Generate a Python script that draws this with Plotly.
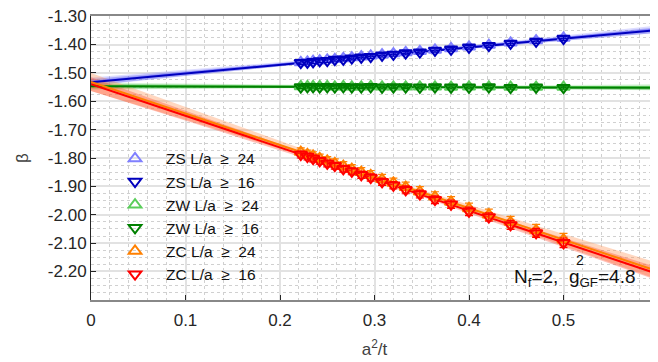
import numpy as np
import plotly.graph_objects as go

# ---------------- data ----------------
a2_over_t = [0.500, 0.471, 0.444, 0.421, 0.400, 0.381, 0.364, 0.348, 0.333, 0.320, 0.308,
             0.296, 0.286, 0.276, 0.267, 0.258, 0.250, 0.242, 0.235, 0.229, 0.222]

zs_24 = [-1.377, -1.386, -1.394, -1.402, -1.408, -1.414, -1.419, -1.424, -1.428, -1.432, -1.436,
         -1.440, -1.443, -1.446, -1.449, -1.452, -1.454, -1.457, -1.459, -1.461, -1.463]
zs_16 = [-1.379, -1.389, -1.396, -1.404, -1.410, -1.417, -1.421, -1.427, -1.430, -1.435, -1.438,
         -1.443, -1.445, -1.448, -1.452, -1.453, -1.457, -1.458, -1.461, -1.463, -1.464]
zw_24 = [-1.550, -1.550, -1.550, -1.549, -1.549, -1.550, -1.549, -1.549, -1.549, -1.549, -1.549,
         -1.548, -1.549, -1.549, -1.548, -1.549, -1.548, -1.548, -1.548, -1.548, -1.548]
zw_16 = [-1.552, -1.551, -1.552, -1.550, -1.551, -1.551, -1.550, -1.551, -1.550, -1.550, -1.551,
         -1.549, -1.550, -1.550, -1.549, -1.550, -1.549, -1.550, -1.549, -1.549, -1.550]
zc_24 = [-2.088, -2.055, -2.026, -2.000, -1.978, -1.955, -1.937, -1.919, -1.903, -1.888, -1.875,
         -1.861, -1.850, -1.839, -1.829, -1.819, -1.810, -1.801, -1.793, -1.787, -1.779]
zc_16 = [-2.099, -2.064, -2.036, -2.008, -1.988, -1.963, -1.947, -1.927, -1.912, -1.896, -1.884,
         -1.869, -1.859, -1.847, -1.838, -1.827, -1.819, -1.810, -1.802, -1.795, -1.788]

zs_24_err = [0.009, 0.009, 0.009, 0.008, 0.008, 0.008, 0.008, 0.008, 0.008, 0.008, 0.008,
             0.008, 0.008, 0.008, 0.008, 0.008, 0.008, 0.008, 0.008, 0.008, 0.008]
zs_16_err = [0.007, 0.007, 0.007, 0.006, 0.006, 0.006, 0.006, 0.006, 0.006, 0.006, 0.006,
             0.006, 0.006, 0.006, 0.006, 0.006, 0.006, 0.006, 0.006, 0.006, 0.006]
zw_24_err = [0.007, 0.007, 0.007, 0.007, 0.007, 0.007, 0.007, 0.007, 0.007, 0.007, 0.007,
             0.007, 0.007, 0.007, 0.007, 0.007, 0.007, 0.007, 0.007, 0.007, 0.007]
zw_16_err = [0.005, 0.005, 0.005, 0.005, 0.005, 0.005, 0.005, 0.005, 0.005, 0.005, 0.005,
             0.005, 0.005, 0.005, 0.005, 0.005, 0.005, 0.005, 0.005, 0.005, 0.005]
zc_24_err = [0.022, 0.021, 0.020, 0.020, 0.019, 0.019, 0.018, 0.018, 0.018, 0.017, 0.017,
             0.017, 0.016, 0.016, 0.016, 0.016, 0.015, 0.015, 0.015, 0.015, 0.015]
zc_16_err = [0.017, 0.016, 0.016, 0.015, 0.015, 0.015, 0.014, 0.014, 0.014, 0.013, 0.013,
             0.013, 0.013, 0.012, 0.012, 0.012, 0.012, 0.012, 0.012, 0.012, 0.012]

NB = "\u00a0"
series_names = ["ZS L/a" + NB * 2 + "≥" + NB * 2 + "24", "ZS L/a" + NB * 2 + "≥" + NB * 2 + "16",
                "ZW L/a" + NB * 2 + "≥" + NB * 2 + "24", "ZW L/a" + NB * 2 + "≥" + NB * 2 + "16",
                "ZC L/a" + NB * 2 + "≥" + NB * 2 + "24", "ZC L/a" + NB * 2 + "≥" + NB * 2 + "16"]
series_values = [zs_24, zs_16, zw_24, zw_16, zc_24, zc_16]
series_errors = [zs_24_err, zs_16_err, zw_24_err, zw_16_err, zc_24_err, zc_16_err]

y_ticks = [-1.30, -1.40, -1.50, -1.60, -1.70, -1.80, -1.90, -2.00, -2.10, -2.20]
y_tick_labels = ["-1.30", "-1.40", "-1.50", "-1.60", "-1.70", "-1.80", "-1.90", "-2.00",
                 "-2.10", "-2.20"]
x_ticks = [0, 0.1, 0.2, 0.3, 0.4, 0.5]
x_tick_labels = ["0", "0.1", "0.2", "0.3", "0.4", "0.5"]

# ---------------- styles ----------------
colors = ["rgb(128,128,255)", "rgb(0,0,190)", "rgb(90,205,90)", "rgb(0,128,0)",
          "rgb(255,128,0)", "rgb(255,0,0)"]
band_colors = ["rgba(140,140,255,0.30)", "rgba(60,60,230,0.30)", "rgba(120,220,120,0.30)",
               "rgba(0,150,0,0.28)", "rgba(255,150,90,0.38)", "rgba(255,60,30,0.32)"]
symbols = ["triangle-up-open", "triangle-down-open"] * 3
BAND_SCALE = 2.0
FONT = "Liberation Sans, Arial, Helvetica, sans-serif"

x_arr = np.array(a2_over_t)
xs = np.linspace(0.0, 0.6, 121)

fig = go.Figure()

fits = []
for vals, errs in zip(series_values, series_errors):
    p, C = np.polyfit(x_arr, np.array(vals), 1, w=1.0 / np.array(errs), cov="unscaled")
    yfit = p[0] * xs + p[1]
    sd = np.sqrt(C[0, 0] * xs ** 2 + 2 * C[0, 1] * xs + C[1, 1]) * BAND_SCALE
    fits.append((yfit, sd))

# bands
for (yfit, sd), bc in zip(fits, band_colors):
    fig.add_trace(go.Scatter(
        x=np.concatenate([xs, xs[::-1]]),
        y=np.concatenate([yfit + sd, (yfit - sd)[::-1]]),
        fill="toself", fillcolor=bc, line=dict(width=0), mode="lines",
        hoverinfo="skip", showlegend=False))

# fit lines
for (yfit, sd), c in zip(fits, colors):
    fig.add_trace(go.Scatter(x=xs, y=yfit, mode="lines", line=dict(color=c, width=2),
                             hoverinfo="skip", showlegend=False))

# data
for name, vals, errs, c, s in zip(series_names, series_values, series_errors, colors, symbols):
    fig.add_trace(go.Scatter(
        x=a2_over_t, y=vals, name=name, mode="markers",
        marker=dict(symbol=s, size=11, color=c, line=dict(color=c, width=2)),
        error_y=dict(type="data", array=errs, visible=True, color=c, thickness=1.2, width=4)))

# page body has an 8px margin: figure is 650x354 placed at (8, 8)
fig.update_layout(
    width=650, height=354,
    margin=dict(l=83, r=0, t=8, b=62),
    paper_bgcolor="white", plot_bgcolor="white",
    font=dict(family=FONT, size=17, color="#262626"),
    showlegend=True,
    legend=dict(x=0.023, y=0.557, xanchor="left", yanchor="top",
                bgcolor="rgba(0,0,0,0)", font=dict(size=15.5, color="#111111"),
                tracegroupgap=0, itemwidth=52),
    annotations=[
        dict(x=0.965, y=0.028, xref="paper", yref="paper", xanchor="right", yanchor="bottom",
             text="N<sub>f</sub>=2," + NB * 2 + "g<sub>GF</sub>=4.8", showarrow=False,
             font=dict(size=19, color="#111111")),
        dict(x=0.862, y=0.14, xref="paper", yref="paper", xanchor="center", yanchor="middle",
             text="2", showarrow=False, font=dict(size=14, color="#111111")),
    ],
)

fig.update_xaxes(
    range=[0, 0.6], tickvals=x_ticks, ticktext=x_tick_labels,
    showline=True, linecolor="#888888", linewidth=2, mirror=True,
    ticks="inside", ticklen=5, tickcolor="#262626", ticklabelstandoff=4,
    showgrid=True, gridcolor="#e2e2e2", gridwidth=1.5, zeroline=False,
    minor=dict(dtick=0.02, showgrid=True, gridcolor="#d0d0d0", griddash="dot", gridwidth=1),
    title=dict(text="a<sup>2</sup>/t", font=dict(size=17, color="#404040"), standoff=14),
)
fig.update_yaxes(
    range=[-2.3005, -1.2995], tickvals=y_ticks, ticktext=y_tick_labels,
    ticklabeloverflow="allow",
    showline=True, linecolor="#262626", linewidth=1, mirror=True,
    ticks="inside", ticklen=5, tickcolor="#262626",
    showgrid=True, gridcolor="#e2e2e2", gridwidth=1.5, zeroline=False,
    minor=dict(dtick=0.025, showgrid=True, gridcolor="#d0d0d0", griddash="dot", gridwidth=1),
    title=dict(text="β", font=dict(size=17, color="#404040"), standoff=14),
)

fig.write_html("out.html")
